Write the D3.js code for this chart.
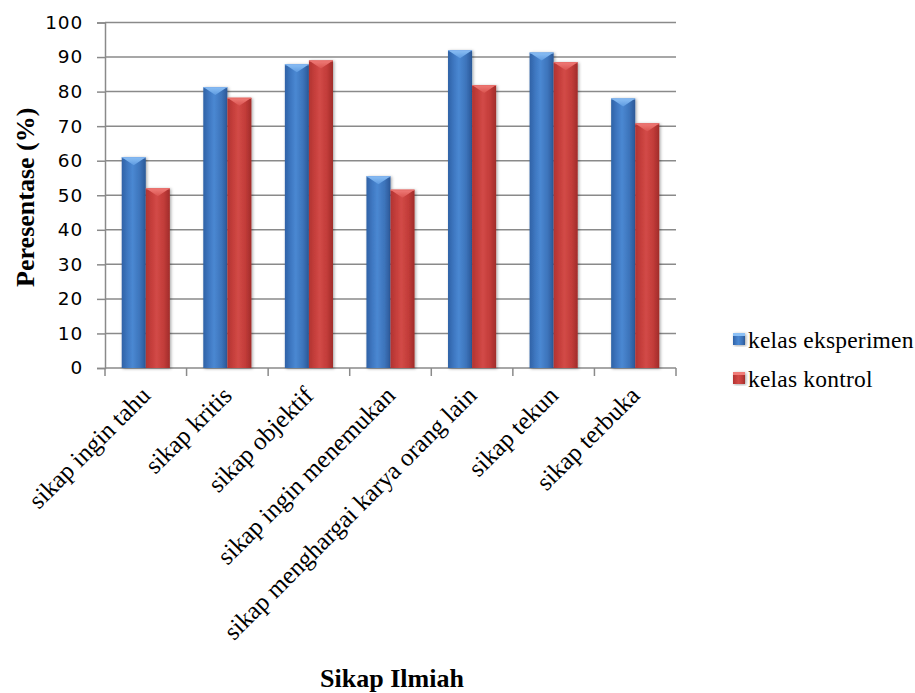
<!DOCTYPE html>
<html>
<head>
<meta charset="utf-8">
<script src="https://cdn.jsdelivr.net/npm/d3@7"></script>
<style>
  html, body { margin: 0; padding: 0; background: #fff; }
  svg { display: block; }
</style>
</head>
<body>
<svg id="chart" width="915" height="693"></svg>
<script>
// Sikap ilmiah: persentase per aspek untuk kelas eksperimen dan kelas kontrol
const categories = [
  "sikap ingin tahu",
  "sikap kritis",
  "sikap objektif",
  "sikap ingin menemukan",
  "sikap menghargai karya orang lain",
  "sikap tekun",
  "sikap terbuka"
];
const seriesNames = ["kelas eksperimen", "kelas kontrol"];
const eksperimen = [61.0, 81.3, 87.9, 55.5, 92.0, 91.3, 78.0];
const kontrol    = [52.0, 78.2, 89.0, 51.6, 81.9, 88.5, 70.8];
const yTicks = [0, 10, 20, 30, 40, 50, 60, 70, 80, 90, 100];
const yTitle = "Peresentase (%)";
const xTitle = "Sikap Ilmiah";

const svg = d3.select("#chart");
const plot = { left: 105, right: 676, top: 22.5, bottom: 368 };
const serif = "'Liberation Serif', 'Times New Roman', serif";

const x = d3.scaleBand()
  .domain(categories)
  .range([plot.left, plot.right])
  .paddingInner(0.41)
  .paddingOuter(0.205);
const xs = d3.scaleBand().domain(seriesNames).range([0, x.bandwidth()]).padding(0);
const y = d3.scaleLinear().domain([0, 100]).range([plot.bottom, plot.top]);

// gradients for the cylinder-like bars
const defs = svg.append("defs");
const palettes = {
  "kelas eksperimen": { stops: ["#2f62a6", "#3f78c2", "#4a88d2", "#3d74bb", "#2b5897"], cap: ["#8cc0f5", "#5d9ae0"] },
  "kelas kontrol":    { stops: ["#b13432", "#c63f3c", "#d24a47", "#c23c39", "#a02c2a"], cap: ["#f07c78", "#d9534f"] }
};
seriesNames.forEach((s, i) => {
  const g = defs.append("linearGradient").attr("id", "body" + i)
    .attr("x1", "0%").attr("x2", "100%").attr("y1", "0%").attr("y2", "0%");
  const offs = [0, 0.25, 0.45, 0.75, 1];
  palettes[s].stops.forEach((c, k) => g.append("stop").attr("offset", offs[k]).attr("stop-color", c));
  const c = defs.append("linearGradient").attr("id", "cap" + i)
    .attr("x1", "0%").attr("x2", "0%").attr("y1", "0%").attr("y2", "100%");
  c.append("stop").attr("offset", 0).attr("stop-color", palettes[s].cap[0]);
  c.append("stop").attr("offset", 1).attr("stop-color", palettes[s].cap[1]);
});
const shadow = defs.append("filter").attr("id", "shadow")
  .attr("x", "-30%").attr("y", "-10%").attr("width", "160%").attr("height", "120%");
shadow.append("feDropShadow").attr("dx", 1.2).attr("dy", 0.8)
  .attr("stdDeviation", 1.4).attr("flood-color", "#000").attr("flood-opacity", 0.35);

// gridlines
svg.append("g").selectAll("line").data(yTicks.filter(t => t > 0)).join("line")
  .attr("x1", plot.left).attr("x2", plot.right)
  .attr("y1", d => y(d)).attr("y2", d => y(d))
  .attr("stroke", "#8a8a8a").attr("stroke-width", 1.5);

// y axis
const yAxis = svg.append("g").attr("transform", `translate(${plot.left},0)`)
  .call(d3.axisLeft(y).tickValues(yTicks).tickSize(8).tickPadding(14).tickFormat(d3.format("d")));
yAxis.select(".domain").attr("stroke", "#8a8a8a").attr("stroke-width", 1.5);
yAxis.selectAll(".tick line").attr("stroke", "#8a8a8a").attr("stroke-width", 1.5);
yAxis.selectAll(".tick text")
  .attr("fill", "#000")
  .style("font-family", "'DejaVu Sans', sans-serif")
  .style("font-size", "18.5px")
  .style("letter-spacing", "0.8px");

// x axis line and category ticks
const xAxis = svg.append("g").attr("transform", `translate(0,${plot.bottom})`);
xAxis.append("line").attr("x1", plot.left).attr("x2", plot.right)
  .attr("stroke", "#8a8a8a").attr("stroke-width", 1.5);
const step = x.step();
xAxis.selectAll("line.tk").data(d3.range(categories.length + 1)).join("line")
  .attr("class", "tk")
  .attr("x1", i => plot.left + i * step).attr("x2", i => plot.left + i * step)
  .attr("y1", 0).attr("y2", 8)
  .attr("stroke", "#8a8a8a").attr("stroke-width", 1.5);

// bars
const rows = categories.map((c, i) => ({ cat: c, vals: [eksperimen[i], kontrol[i]] }));
const groups = svg.append("g").selectAll("g").data(rows).join("g")
  .attr("transform", d => `translate(${x(d.cat)},0)`);
seriesNames.forEach((s, si) => {
  const bw = xs.bandwidth();
  const bar = groups.append("g").attr("filter", "url(#shadow)");
  bar.append("rect")
    .attr("x", xs(s)).attr("width", bw)
    .attr("y", d => y(d.vals[si]))
    .attr("height", d => y(0) - y(d.vals[si]))
    .attr("fill", `url(#body${si})`);
  bar.append("path")
    .attr("d", d => {
      const top = y(d.vals[si]);
      const x0 = xs(s);
      return `M${x0},${top} L${x0 + bw},${top} L${x0 + bw / 2},${top + 8} Z`;
    })
    .attr("fill", `url(#cap${si})`);
  bar.append("line")
    .attr("x1", xs(s)).attr("x2", xs(s) + bw)
    .attr("y1", d => y(d.vals[si]) + 0.5).attr("y2", d => y(d.vals[si]) + 0.5)
    .attr("stroke", si === 0 ? "#7fb2ee" : "#e86e6a").attr("stroke-width", 1);
});

// category labels
svg.append("g").selectAll("text").data(categories).join("text")
  .attr("transform", d => `translate(${x(d) + x.bandwidth() / 2 + 6},${plot.bottom + 29}) rotate(-45)`)
  .attr("text-anchor", "end")
  .style("font-family", serif)
  .style("font-size", "25px")
  .attr("fill", "#000")
  .text(d => d);

// axis titles
svg.append("text")
  .attr("transform", `translate(34,${(plot.top + plot.bottom) / 2 + 2}) rotate(-90)`)
  .attr("text-anchor", "middle")
  .style("font-family", serif)
  .style("font-size", "26px").style("font-weight", "bold")
  .text(yTitle);
svg.append("text")
  .attr("x", 392).attr("y", 687)
  .attr("text-anchor", "middle")
  .style("font-family", serif)
  .style("font-size", "26px").style("font-weight", "bold")
  .text(xTitle);

// legend
const legend = svg.append("g").attr("transform", "translate(733,0)");
const legendRows = [348, 387];
seriesNames.forEach((s, i) => {
  const g = legend.append("g").attr("transform", `translate(0,${legendRows[i]})`);
  g.append("rect").attr("x", 0).attr("y", -15).attr("width", 12).attr("height", 12)
    .attr("fill", `url(#body${i})`).attr("filter", "url(#shadow)");
  g.append("rect").attr("x", 0).attr("y", -15).attr("width", 12).attr("height", 3)
    .attr("fill", palettes[s].cap[0]);
  g.append("text").attr("x", 15).attr("y", 0)
    .style("font-family", serif)
    .style("font-size", "23.5px")
    .style("letter-spacing", "0.2px")
    .text(s);
});
</script>
</body>
</html>
